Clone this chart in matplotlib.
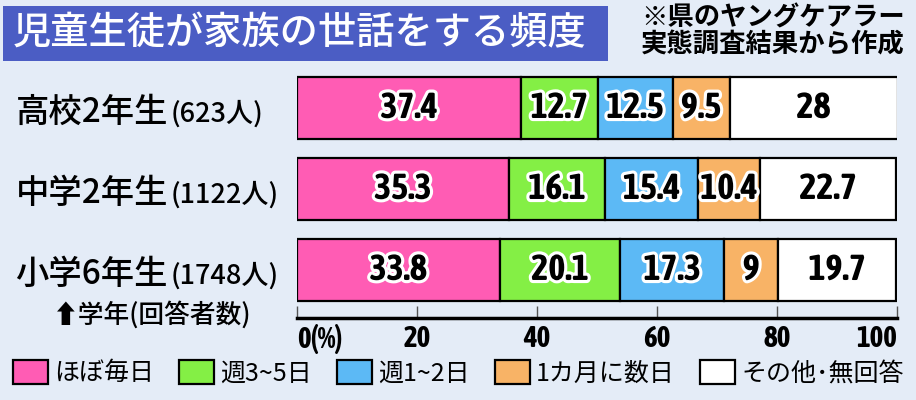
import matplotlib
matplotlib.use("Agg")
import matplotlib.pyplot as plt
from matplotlib import font_manager, patheffects, transforms
from matplotlib.patches import Rectangle

# 県のヤングケアラー実態調査 - 家族の世話をする頻度 (%)
grades = ["高校2年生", "中学2年生", "小学6年生"]
counts = ["(623人)", "(1122人)", "(1748人)"]
categories = ["ほぼ毎日", "週3~5日", "週1~2日", "1カ月に数日", "その他･無回答"]
daily = [37.4, 35.3, 33.8]
week_3_5 = [12.7, 16.1, 20.1]
week_1_2 = [12.5, 15.4, 17.3]
monthly = [9.5, 10.4, 9.0]
other = [28.0, 22.7, 19.7]
ticks = [0, 20, 40, 60, 80, 100]
tick_labels = ["0(%)", "20", "40", "60", "80", "100"]

colors = ["#ff5cb4", "#84ef45", "#5cb9f5", "#f8b366", "#ffffff"]
bg = "#e4ecf7"
jp = ["Noto Sans CJK JP", "DejaVu Sans"]

# a narrow / condensed bold font for the numbers, if one is installed
cond = [f for f in font_manager.fontManager.ttflist
        if (f.stretch in ("condensed", "semi-condensed", "extra-condensed", "ultra-condensed")
            or "Narrow" in f.name or "Condensed" in f.name)]
cond.sort(key=lambda f: (0 if f.weight in ("bold", 700) else 1, f.name))
if cond:
    num_font = font_manager.FontProperties(fname=cond[0].fname)
    num_size = 26
else:
    num_font = font_manager.FontProperties(family="DejaVu Sans", weight="bold")
    num_size = 18

W, H = 916, 400
fig = plt.figure(figsize=(W / 100, H / 100), dpi=100, facecolor=bg)
ax = fig.add_axes([297 / W, (H - 318) / H, 600 / W, (318 - 67) / H])
ax.patch.set_visible(False)

series = [daily, week_3_5, week_1_2, monthly, other]
ypos = list(range(len(grades)))
left = [0.0] * len(grades)
bars = []
for vals, col, name in zip(series, colors, categories):
    b = ax.barh(ypos, vals, left=left, height=0.765, color=col,
                edgecolor="black", linewidth=1.6, label=name)
    bars.append(b)
    for y, l, v in zip(ypos, left, vals):
        ax.text(l + v / 2, y, f"{v:g}", ha="center", va="center",
                fontproperties=num_font, fontsize=num_size, color="black",
                path_effects=[patheffects.withStroke(linewidth=4.5, foreground="white")])
    left = [l + v for l, v in zip(left, vals)]

ax.set_xlim(0, 100)
ax.set_ylim(2.593, -0.506)
ax.set_yticks([])
for s in ["top", "left", "right"]:
    ax.spines[s].set_visible(False)
ax.spines["bottom"].set_linewidth(2.5)
ax.set_xticks(ticks)
ax.set_xticklabels(tick_labels)
for t in ax.get_xticklabels():
    t.set_fontproperties(num_font)
    t.set_fontsize(num_size - 5)
ax.tick_params(axis="x", direction="in", length=9, width=1, color="#555555", pad=4)
ax.get_xticklabels()[0].set_ha("left")
ax.get_xticklabels()[-1].set_ha("right")

# row labels
tr = transforms.blended_transform_factory(fig.transFigure, ax.transData)
for y, g, c in zip(ypos, grades, counts):
    ax.text(168 / W, y + 0.06, g, transform=tr, ha="right", va="center",
            fontsize=24, family=jp, weight="medium")
    ax.text(171 / W, y + 0.08, c, transform=tr, ha="left", va="center",
            fontsize=19.5, family=jp, weight="medium")

fig.text(152 / W, (H - 315) / H, "⬆学年(回答者数)", ha="center", va="center",
         fontsize=18.5, family=jp, weight="medium")

# title box
fig.patches.append(Rectangle((3 / W, (H - 61) / H), 605 / W, 55 / H,
                             transform=fig.transFigure, facecolor="#4b5dc4",
                             edgecolor="none"))
fig.text(13 / W, (H - 33) / H, "児童生徒が家族の世話をする頻度", ha="left", va="center",
         fontsize=27.5, family=jp, color="white", weight="medium")
fig.text(905 / W, (H - 18) / H, "※県のヤングケアラー", ha="right", va="center",
         fontsize=19, family=jp, weight="bold")
fig.text(905 / W, (H - 45) / H, "実態調査結果から作成", ha="right", va="center",
         fontsize=19, family=jp, weight="bold")

fig.legend(handles=bars, labels=categories, loc="center", bbox_to_anchor=(458 / W, (H - 373) / H),
           ncol=5, frameon=False, prop={"family": jp, "size": 18},
           handlelength=1.4, handleheight=1.15, handletextpad=0.25, columnspacing=1.0)

fig.savefig("out.png", dpi=100, facecolor=bg)
